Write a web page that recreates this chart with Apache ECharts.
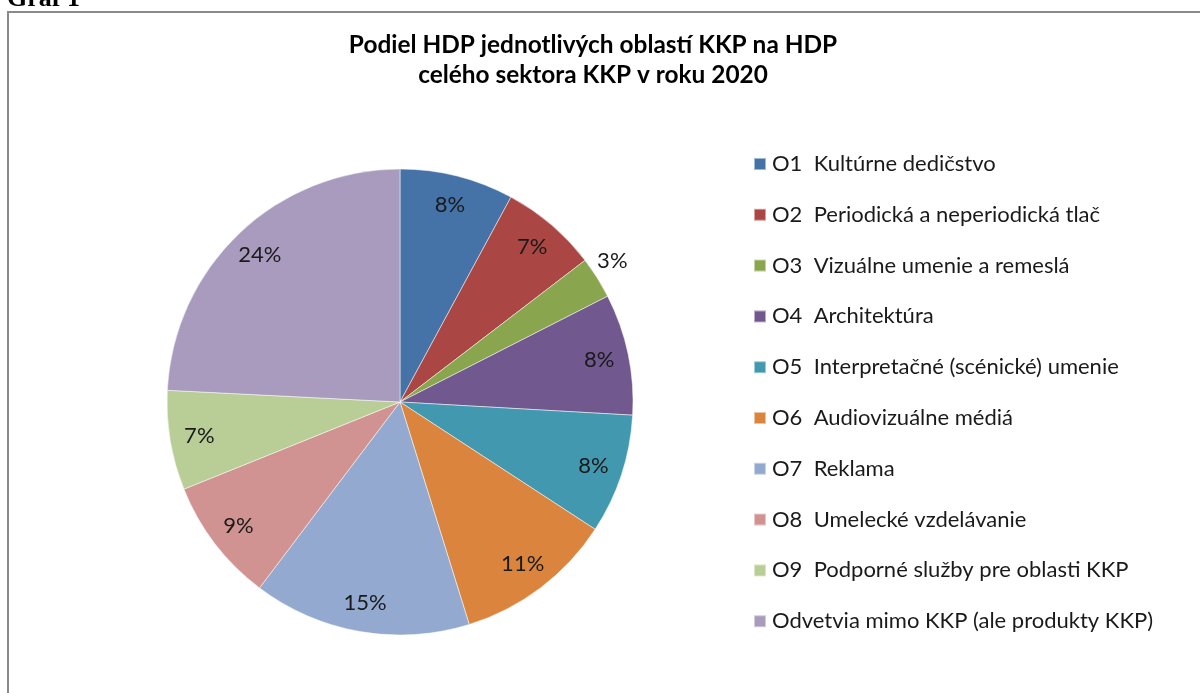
<!DOCTYPE html>
<html>
<head>
<meta charset="utf-8">
<script src="https://cdn.jsdelivr.net/npm/echarts@6/dist/echarts.min.js"></script>
<style>
  html, body { margin: 0; padding: 0; background: #fff; }
  #chart { width: 1200px; height: 693px; }
</style>
</head>
<body>
<div id="chart"></div>
<script>
// oblasti KKP (poradie ako v legende)
const names = [
  'O1  Kultúrne dedičstvo',
  'O2  Periodická a neperiodická tlač',
  'O3  Vizuálne umenie a remeslá',
  'O4  Architektúra',
  'O5  Interpretačné (scénické) umenie',
  'O6  Audiovizuálne médiá',
  'O7  Reklama',
  'O8  Umelecké vzdelávanie',
  'O9  Podporné služby pre oblasti KKP',
  'Odvetvia mimo KKP (ale produkty KKP)'
];
// podiel na HDP sektora (%), odčítané z grafu
const shares = [7.9, 6.7, 2.9, 8.4, 8.3, 11.0, 15.1, 8.6, 6.9, 24.2];
const colors = ['#4572A7', '#AA4643', '#89A54E', '#71588F', '#4198AF',
                '#DB843D', '#93A9CF', '#D19392', '#B9CD96', '#A99BBD'];
// ktoré popisky sú mimo výseku
const outsideLabels = ['O3  Vizuálne umenie a remeslá'];

const font = 'Lato';
const pct = p => Math.round(p.percent) + '%';
const chartDom = document.getElementById('chart');
const myChart = echarts.init(chartDom, null, { renderer: 'canvas' });

const pieData = names.map((n, i) => ({ name: n, value: shares[i] }));
const labelData = names.map((n, i) => {
  const item = { name: n, value: shares[i] };
  if (outsideLabels.indexOf(n) >= 0) {
    // prázdny druhý riadok posunie popisok nahor
    item.label = {
      position: 'outside',
      distanceToLabelLine: 0,
      lineHeight: 34,
      formatter: p => pct(p) + '\n '
    };
  }
  return item;
});

const option = {
  animation: false,
  color: colors,
  graphic: [
    {
      type: 'text',
      left: 7,
      top: -14,
      style: {
        text: 'Graf 1',
        font: 'bold 26px "Liberation Serif", serif',
        fill: '#000'
      }
    },
    {
      type: 'rect',
      shape: { x: 8, y: 12, width: 1300, height: 800 },
      style: { fill: 'none', stroke: '#8a8a8a', lineWidth: 2 },
      silent: true
    },
    {
      type: 'text',
      x: 593,
      y: 30,
      style: {
        text: 'Podiel HDP jednotlivých oblastí KKP na HDP\ncelého sektora KKP v roku 2020',
        align: 'center',
        verticalAlign: 'top',
        fontFamily: font,
        fontWeight: 'bold',
        fontSize: 24.4,
        lineHeight: 30,
        fill: '#000'
      }
    }
  ],
  legend: {
    orient: 'vertical',
    left: 753,
    top: 153,
    padding: 0,
    data: names,
    icon: 'rect',
    itemWidth: 12,
    itemHeight: 12,
    itemGap: 28.8,
    selectedMode: false,
    textStyle: {
      fontFamily: font,
      fontSize: 22,
      lineHeight: 22,
      color: '#1a1a1a',
      padding: [0, 0, 0, 1]
    }
  },
  series: [
    {
      type: 'pie',
      center: [400, 402],
      radius: [0, 233],
      startAngle: 90,
      clockwise: true,
      avoidLabelOverlap: false,
      label: { show: false },
      labelLine: { show: false },
      itemStyle: { borderColor: 'rgba(255,255,255,0.5)', borderWidth: 1 },
      emphasis: { disabled: true },
      data: pieData
    },
    {
      // priehľadná vrstva len pre percentuálne popisky
      type: 'pie',
      center: [400, 402],
      radius: [168, 233],
      startAngle: 90,
      clockwise: true,
      silent: true,
      avoidLabelOverlap: false,
      itemStyle: { color: 'rgba(0,0,0,0)' },
      label: {
        show: true,
        position: 'inside',
        formatter: pct,
        fontFamily: font,
        fontSize: 22,
        color: '#1a1a1a'
      },
      labelLine: { show: false, length: 0, length2: 0 },
      emphasis: { disabled: true },
      data: labelData
    }
  ]
};

option && myChart.setOption(option);
</script>
</body>
</html>
